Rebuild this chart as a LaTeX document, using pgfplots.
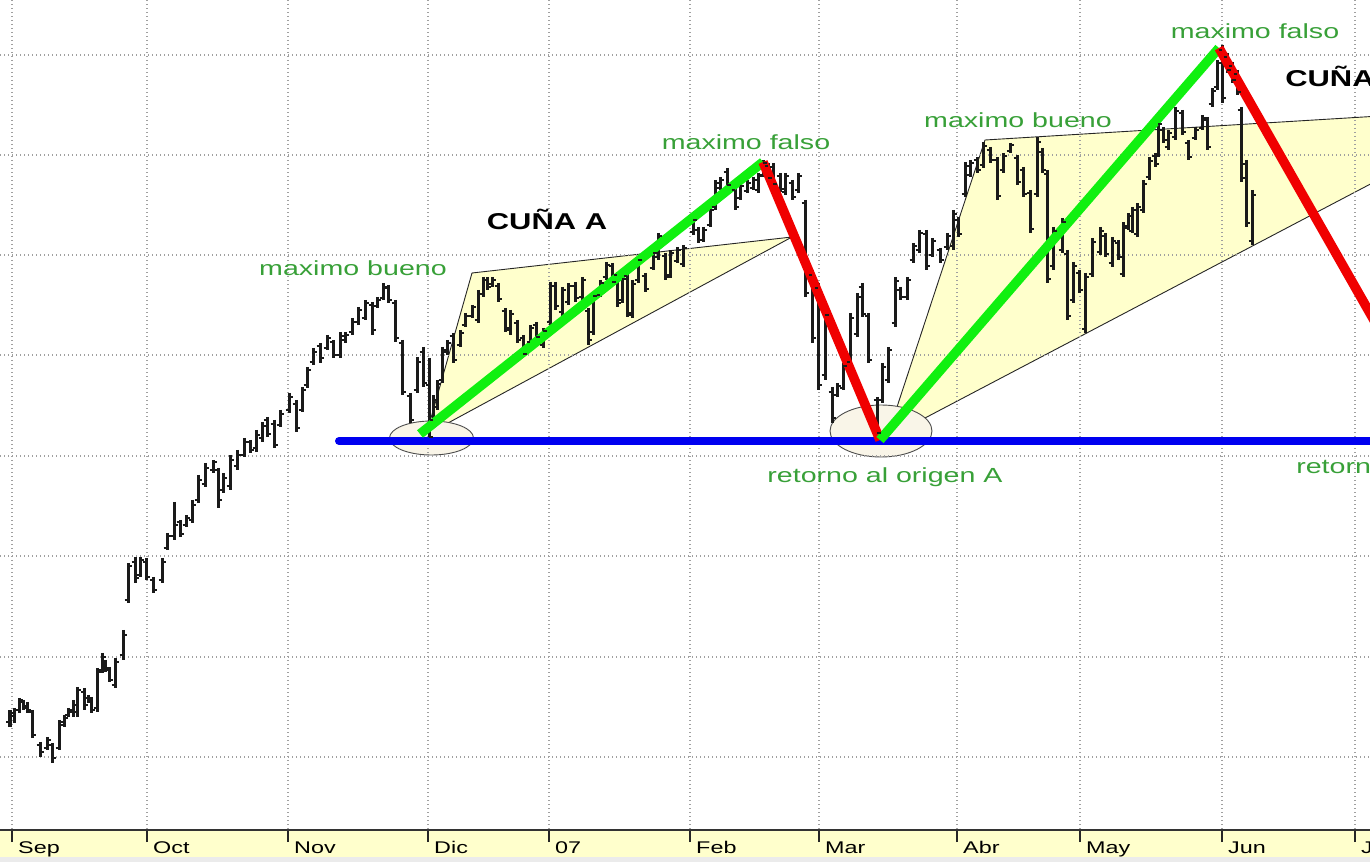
\documentclass[border=0pt]{standalone}
\usepackage{fontspec}
\setmainfont{Liberation Sans}
\usepackage{pgfplots}
\usepackage{pgfplotstable}
\pgfplotsset{compat=1.18}
\definecolor{barcol}{HTML}{1A1A1A}
\definecolor{wedge}{HTML}{FFFFCC}
\definecolor{ell}{HTML}{F9F5E8}
\definecolor{band}{HTML}{FFFFCC}
\definecolor{tgreen}{HTML}{38A038}
\definecolor{lgreen}{HTML}{10F010}
\definecolor{lred}{HTML}{F00000}
\definecolor{lblue}{HTML}{0000F0}
\definecolor{gridc}{HTML}{A0A0A0}
\pgfdeclareplotmark{otick}{\pgfpathmoveto{\pgfpoint{-3.5bp}{0pt}}\pgfpathlineto{\pgfpoint{0pt}{0pt}}\pgfusepathqstroke}
\pgfdeclareplotmark{ctick}{\pgfpathmoveto{\pgfpoint{0pt}{0pt}}\pgfpathlineto{\pgfpoint{3.5bp}{0pt}}\pgfusepathqstroke}
\pgfplotstableread{
x hi lo op cl
10 710 727 722 713
14 708 723 716 710
19 698 713 710 700
23 700 710 702 708
27 702 713 706 710
32 710 738 712 735
40 742 757 745 752
47 737 750 748 740
52 743 763 745 758
59 720 750 748 725
64 715 727 722 718
68 708 717 715 710
73 700 717 712 705
77 687 717 712 690
84 688 710 692 705
88 695 703 698 700
91 697 713 699 710
97 668 712 708 672
102 653 673 670 657
105 660 672 662 668
109 667 682 670 680
115 658 688 685 662
123 630 660 655 635
128 563 603 600 566
135 557 583 562 578
140 557 577 575 560
146 558 580 562 577
153 577 593 580 590
162 558 583 580 562
167 533 550 548 536
174 502 540 536 525
180 520 537 522 534
186 515 527 525 518
192 500 523 520 505
198 475 503 500 480
205 463 487 484 468
213 460 473 470 462
218 468 508 470 500
223 473 493 490 478
230 455 490 486 460
237 450 470 466 455
244 438 457 455 442
250 440 453 442 450
256 430 452 448 435
262 422 442 438 426
267 417 437 420 434
274 420 448 424 445
280 410 427 425 414
289 393 413 410 397
296 400 432 404 428
302 387 412 410 390
307 367 388 385 370
313 348 365 362 352
320 343 363 346 358
327 335 350 348 338
333 340 358 342 355
340 332 358 355 336
345 332 343 340 335
352 318 335 332 322
358 307 325 322 310
365 300 320 318 303
372 302 335 305 330
377 297 308 306 300
383 283 300 298 287
388 285 303 288 300
395 300 342 303 338
402 340 395 343 392
410 393 423 396 420
417 357 393 390 362
423 347 387 352 383
429 358 442 385 437
433 395 423 420 400
437 380 410 407 384
442 347 383 380 350
447 340 355 352 343
453 333 363 336 360
460 330 347 345 333
465 313 327 325 316
472 305 318 316 307
478 290 323 320 294
483 277 297 294 280
487 277 290 280 287
492 277 287 284 280
498 283 302 286 299
505 308 332 311 328
510 310 335 330 314
517 320 343 323 340
523 335 357 338 354
530 325 345 342 328
536 322 340 325 337
543 328 348 345 331
550 282 325 322 286
555 282 310 286 306
562 287 317 312 290
568 283 305 302 286
575 282 302 286 298
582 277 300 297 280
588 308 345 311 340
593 292 335 332 296
600 280 297 295 283
606 262 280 277 265
612 263 285 266 282
617 272 307 275 303
622 275 303 300 279
627 272 317 276 313
632 280 318 315 284
638 257 283 280 260
645 273 292 276 289
653 250 270 268 253
658 233 260 257 236
665 253 280 256 277
670 250 278 275 253
677 247 263 261 250
683 245 267 264 248
693 217 235 232 220
698 227 243 230 240
703 227 242 240 230
710 207 227 225 210
715 180 210 207 183
720 177 190 188 180
727 168 188 172 185
735 187 210 190 207
740 183 200 198 186
747 180 193 191 183
753 177 190 188 180
758 173 193 190 176
763 160 177 175 163
768 163 180 166 178
773 163 187 167 184
780 173 192 176 189
785 173 195 192 176
792 180 200 183 197
798 173 193 190 176
805 200 297 203 293
812 270 343 275 338
818 283 390 288 385
825 310 380 375 315
832 387 423 392 418
837 383 397 395 386
843 363 390 388 366
850 313 367 362 318
857 293 337 334 297
862 283 317 287 314
868 313 363 316 360
877 397 437 400 433
882 363 403 400 367
888 347 383 380 350
895 277 327 323 281
900 287 300 290 297
907 277 300 297 280
913 243 263 260 246
919 230 253 250 233
926 230 270 234 266
932 238 257 255 241
940 248 263 250 260
947 233 250 247 236
953 210 250 246 214
958 217 237 220 234
965 162 197 194 166
970 160 177 175 163
977 157 173 160 170
983 142 168 165 146
990 147 163 150 160
997 157 200 160 196
1003 153 173 170 156
1010 143 153 151 145
1017 155 185 158 182
1023 167 197 170 194
1030 190 233 193 229
1037 137 197 194 142
1042 148 173 152 170
1047 170 283 174 279
1053 227 270 266 231
1062 218 253 250 222
1067 250 320 254 316
1073 262 303 300 266
1079 270 293 273 290
1085 273 333 329 277
1092 238 277 274 242
1100 227 255 252 231
1105 233 257 236 254
1112 237 267 263 241
1118 240 260 243 257
1123 222 277 274 226
1128 213 230 228 216
1132 207 233 231 210
1137 203 237 234 207
1143 180 213 210 184
1149 157 180 177 161
1155 153 167 156 164
1158 120 157 154 124
1163 127 143 130 140
1168 130 150 147 133
1175 107 140 137 111
1182 110 135 113 132
1188 140 160 143 157
1195 127 140 138 130
1202 115 130 128 118
1207 117 150 120 147
1212 88 107 104 91
1217 60 90 87 63
1222 45 103 50 98
1227 53 73 57 70
1232 62 83 66 80
1237 70 95 74 92
1241 107 182 110 178
1246 160 227 164 223
1252 190 245 241 195
}\bars
\begin{document}
\begin{tikzpicture}
\begin{axis}[
  set layers=standard,
  scale only axis, width=1370bp, height=830bp,
  xmin=0, xmax=1370, ymin=0, ymax=830, y dir=reverse,
  clip=false,
  axis x line*=bottom, axis y line*=left,
  y axis line style={draw=none},
  xtick={12,147,288,428,549,690,819,957,1080,1222,1355},
  xticklabels={Sep,Oct,Nov,Dic,07,Feb,Mar,Abr,May,Jun,Jul},
  ytick={55,155,255,355,456,556,657,757}, yticklabels={},
  grid=major,
  grid style={gridc, line width=1.4bp, dash pattern=on 1.4bp off 2.6bp},
  tick align=outside, major tick length=12bp,
  x tick style={line width=1.5bp, black!85},
  y tick style={draw=none},
  x axis line style={line width=1.8bp, black!80, -},
  xticklabel style={font=\fontsize{17}{20}\selectfont, xscale=1.38, anchor=north west, xshift=1bp, yshift=4bp},
]
\begin{pgfonlayer}{axis background}
\fill[band] (axis cs:0,830) rectangle (axis cs:1370,857);
\fill[black!8] (axis cs:0,857) rectangle (axis cs:1370,862);
\end{pgfonlayer}
% wedges
\addplot[fill=wedge, draw=black!85, line width=0.9bp, on layer=axis background] coordinates {(429,425) (472,273) (792,237) (448,423)} -- cycle;
\addplot[fill=wedge, draw=black!85, line width=0.9bp, on layer=axis background] coordinates {(896,410) (985,140) (1380,116) (1380,179) (925,418)} -- cycle;
\begin{pgfonlayer}{axis background}
\draw[fill=ell, draw=black!70, line width=0.9bp] (axis cs:431.5,438) ellipse [x radius=42bp, y radius=17bp];
\draw[fill=ell, draw=black!70, line width=0.9bp] (axis cs:881,431) ellipse [x radius=51bp, y radius=26bp];
\end{pgfonlayer}
% price bars: high-low ranges
\addplot[barcol, line width=3bp, mark=none,
  quiver={u=0, v=\thisrow{lo}-\thisrow{hi},
    every arrow/.append style={line width=3bp, draw=barcol}}]
  table[x=x, y=hi] {\bars};
\addplot[only marks, mark=otick, mark options={barcol, line width=1.8bp}] table[x=x, y=op] {\bars};
\addplot[only marks, mark=ctick, mark options={barcol, line width=1.8bp}] table[x=x, y=cl] {\bars};
% support line
\addplot[lblue, line width=8bp, line cap=round] coordinates {(339,441) (1385,441)};
% zigzag
\addplot[lgreen, line width=9.5bp] coordinates {(420,434) (763,162)};
\addplot[lred, line width=9.5bp] coordinates {(763,162) (880,440)};
\addplot[lgreen, line width=9.5bp] coordinates {(880,440) (1219,48)};
\addplot[lred, line width=9.5bp] coordinates {(1219,48) (1375,322)};
% texts
\tikzset{gt/.style={font=\fontsize{20.5}{24}\selectfont, text=tgreen, xscale=1.4, inner sep=0pt}}
\node[gt] at (axis cs:353,268) {maximo bueno};
\node[gt] at (axis cs:746,142) {maximo falso};
\node[gt] at (axis cs:1018,120) {maximo bueno};
\node[gt] at (axis cs:1255,31) {maximo falso};
\node[gt] at (axis cs:885,477) {retorno al origen A};
\node[gt, anchor=west] at (axis cs:1296,468) {retorno al origen B};
\node[font=\bfseries\fontsize{23}{26}\selectfont, xscale=1.35, inner sep=0pt] at (axis cs:547,219) {CUÑA A};
\node[font=\bfseries\fontsize{23}{26}\selectfont, xscale=1.35, inner sep=0pt, anchor=west] at (axis cs:1285,76) {CUÑA B};
\end{axis}
\pgfresetboundingbox
\path (0,-32bp) rectangle (1370bp,830bp);
\end{tikzpicture}
\end{document}
